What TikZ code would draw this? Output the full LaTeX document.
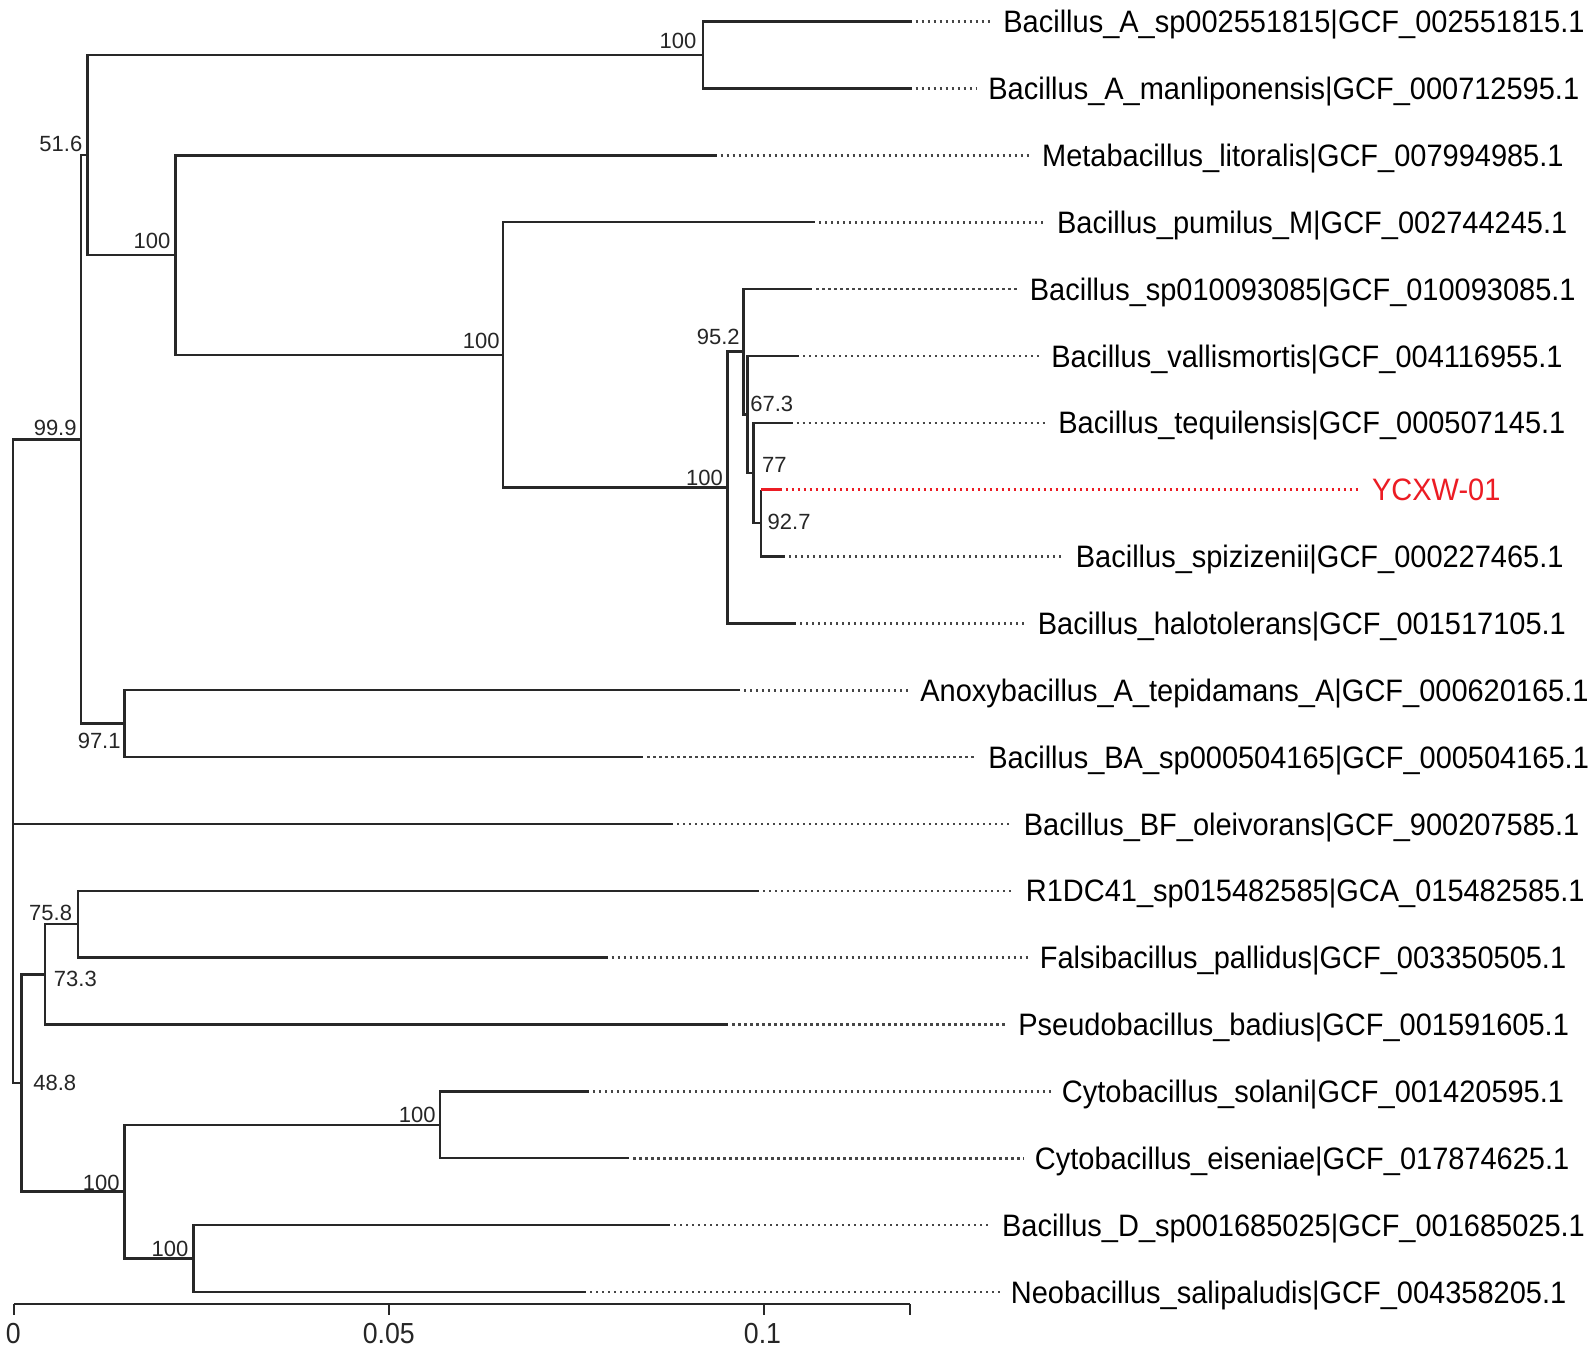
\documentclass[tikz,border=0pt]{standalone}
\usepackage{fontspec}
\usepackage{graphicx}
\setmainfont{Liberation Sans}
\usetikzlibrary{calc}
\definecolor{br}{RGB}{40,40,40}
\definecolor{dotc}{RGB}{70,70,70}
\definecolor{ycx}{RGB}{236,28,36}
\newcommand{\myleaffont}{\fontsize{15.5pt}{18pt}\selectfont}
\newcommand{\mybootfont}{\fontsize{11pt}{13pt}\selectfont}
\newcommand{\myaxfont}{\fontsize{14.5pt}{17pt}\selectfont}
\newcommand{\myxs}[1]{\scalebox{0.935}[1]{#1}}
\newcommand{\myxa}[1]{\scalebox{0.92}[1]{#1}}
\begin{document}
\begin{tikzpicture}[x=0.5pt,y=-0.5pt,
  branch/.style={draw=br,line width=1.25pt},
  dotline/.style={draw=dotc,line width=1.3pt,dash pattern=on 1.1pt off 1.9pt},
  leaflbl/.style={anchor=west,inner sep=0pt,text height=11.1pt,text depth=0pt,font=\myleaffont},
  bootr/.style={anchor=base east,inner sep=0pt,font=\mybootfont,text=black!85},
  bootl/.style={anchor=base west,inner sep=0pt,font=\mybootfont,text=black!85},
  axisline/.style={draw=br,line width=1.1pt},
  axlbl/.style={anchor=base,inner sep=0pt,font=\myaxfont,text=black!85}]
\fill[white] (0,0) rectangle (1595,1350);
\useasboundingbox (0,0) rectangle (1595,1350);

% internal nodes
\coordinate (root) at (13,761.2);
\coordinate (n99) at (81,439.4);
\coordinate (n51) at (87.3,155.1);
\coordinate (nA) at (703,55.05);
\coordinate (nM) at (175.5,255.1);
\coordinate (nP) at (503,354.9);
\coordinate (nS) at (727.7,487.5);
\coordinate (n95) at (743.3,351.7);
\coordinate (n67) at (747.3,414.4);
\coordinate (n77) at (753.3,472.9);
\coordinate (n92) at (761,523.05);
\coordinate (n97) at (124.5,723.6);
\coordinate (n48) at (21.4,1083.0);
\coordinate (n73) at (45,974.4);
\coordinate (n75) at (78,924.2);
\coordinate (nCD) at (124.5,1191.7);
\coordinate (nC) at (440,1124.8);
\coordinate (nD) at (193.5,1258.5);

% tips (end of solid branch)
\coordinate (t1) at (911.7,21.6);
\coordinate (t2) at (911.7,88.5);
\coordinate (t3) at (716.7,155.3);
\coordinate (t4) at (815,222.2);
\coordinate (t5) at (812.3,289.0);
\coordinate (t6) at (799,355.9);
\coordinate (t7) at (792.7,422.8);
\coordinate (t8) at (781.7,489.6);
\coordinate (t9) at (785,556.5);
\coordinate (t10) at (796,623.3);
\coordinate (t11) at (740,690.2);
\coordinate (t12) at (643.3,757.1);
\coordinate (t13) at (673,823.9);
\coordinate (t14) at (759,890.8);
\coordinate (t15) at (607.7,957.6);
\coordinate (t16) at (728.3,1024.5);
\coordinate (t17) at (589,1091.4);
\coordinate (t18) at (629.3,1158.2);
\coordinate (t19) at (670,1225.1);
\coordinate (t20) at (586,1291.9);

% branches
\foreach \p/\c in {root/n99,root/t13,root/n48,n99/n51,n99/n97,n51/nA,n51/nM,
  nA/t1,nA/t2,nM/t3,nM/nP,nP/t4,nP/nS,nS/n95,nS/t10,n95/t5,n95/n67,
  n67/t6,n67/n77,n77/t7,n77/n92,n92/t9,n97/t11,n97/t12,n48/n73,n48/nCD,
  n73/n75,n73/t16,n75/t14,n75/t15,nCD/nC,nCD/nD,nC/t17,nC/t18,nD/t19,nD/t20}
  \draw[branch] (\p) |- (\c);
\draw[branch] (n92) -- (n92 |- t8);
\draw[branch,draw=ycx] (n92 |- t8) -- (t8);

% leaf labels
\node[leaflbl] (L1) at (1003,21.6) {\myxs{Bacillus\_A\_sp002551815|GCF\_002551815.1}};
\node[leaflbl] (L2) at (988,88.5) {\myxs{Bacillus\_A\_manliponensis|GCF\_000712595.1}};
\node[leaflbl] (L3) at (1041.7,155.3) {\myxs{Metabacillus\_litoralis|GCF\_007994985.1}};
\node[leaflbl] (L4) at (1056.7,222.2) {\myxs{Bacillus\_pumilus\_M|GCF\_002744245.1}};
\node[leaflbl] (L5) at (1029.5,289.0) {\myxs{Bacillus\_sp010093085|GCF\_010093085.1}};
\node[leaflbl] (L6) at (1051,355.9) {\myxs{Bacillus\_vallismortis|GCF\_004116955.1}};
\node[leaflbl] (L7) at (1058,422.8) {\myxs{Bacillus\_tequilensis|GCF\_000507145.1}};
\node[leaflbl,text=ycx] (L8) at (1371.7,489.6) {\myxs{YCXW-01}};
\node[leaflbl] (L9) at (1075.5,556.5) {\myxs{Bacillus\_spizizenii|GCF\_000227465.1}};
\node[leaflbl] (L10) at (1037.5,623.3) {\myxs{Bacillus\_halotolerans|GCF\_001517105.1}};
\node[leaflbl] (L11) at (920,690.2) {\myxs{Anoxybacillus\_A\_tepidamans\_A|GCF\_000620165.1}};
\node[leaflbl] (L12) at (988,757.1) {\myxs{Bacillus\_BA\_sp000504165|GCF\_000504165.1}};
\node[leaflbl] (L13) at (1023.5,823.9) {\myxs{Bacillus\_BF\_oleivorans|GCF\_900207585.1}};
\node[leaflbl] (L14) at (1025.5,890.8) {\myxs{R1DC41\_sp015482585|GCA\_015482585.1}};
\node[leaflbl] (L15) at (1039.5,957.6) {\myxs{Falsibacillus\_pallidus|GCF\_003350505.1}};
\node[leaflbl] (L16) at (1018,1024.5) {\myxs{Pseudobacillus\_badius|GCF\_001591605.1}};
\node[leaflbl] (L17) at (1061.5,1091.4) {\myxs{Cytobacillus\_solani|GCF\_001420595.1}};
\node[leaflbl] (L18) at (1034.5,1158.2) {\myxs{Cytobacillus\_eiseniae|GCF\_017874625.1}};
\node[leaflbl] (L19) at (1001.7,1225.1) {\myxs{Bacillus\_D\_sp001685025|GCF\_001685025.1}};
\node[leaflbl] (L20) at (1010.5,1291.9) {\myxs{Neobacillus\_salipaludis|GCF\_004358205.1}};

% dotted extensions
\foreach \i in {1,2,3,4,5,6,7,9,10,11,12,13,14,15,16,17,18,19,20}
  \draw[dotline] ([xshift=2pt]t\i) -- ([xshift=-5.5pt]L\i.west);
\draw[dotline,draw=ycx] ([xshift=2pt]t8) -- ([xshift=-5.5pt]L8.west);

% bootstrap values
\node[bootr] (bA) at (696.7,48) {100};
\node[bootr] (b51) at (82.7,151) {51.6};
\node[bootr] (bM) at (170.7,248.3) {100};
\node[bootr] (bP) at (500,348) {100};
\node[bootr] (bS) at (723.3,485) {100};
\node[bootr] (b95) at (740,344) {95.2};
\node[bootl] (b67) at (750,411.7) {67.3};
\node[bootl] (b77) at (761.7,472.7) {77};
\node[bootl] (b92) at (767.3,529.3) {92.7};
\node[bootr] (b99) at (77,435) {99.9};
\node[bootr] (b97) at (121,748.3) {97.1};
\node[bootr] (b75) at (72.4,920) {75.8};
\node[bootl] (b73) at (53.6,986.7) {73.3};
\node[bootl] (b48) at (33,1090) {48.8};
\node[bootr] (bCD) at (120,1190) {100};
\node[bootr] (bC) at (436,1122.7) {100};
\node[bootr] (bD) at (188.8,1256.7) {100};

% scale axis
\coordinate (ax0) at (13.8,1304);
\coordinate (ax1) at (910,1304);
\draw[axisline] (ax0) -- (ax1);
\foreach \x in {13.8,388.8,763.8,910}
  \draw[axisline] (\x,1304) -- (\x,1315);
\node[axlbl] (a0) at (13.3,1343) {\myxa{0}};
\node[axlbl] (a05) at (388.8,1343) {\myxa{0.05}};
\node[axlbl] (a1) at (762.5,1343) {\myxa{0.1}};
\end{tikzpicture}
\end{document}
